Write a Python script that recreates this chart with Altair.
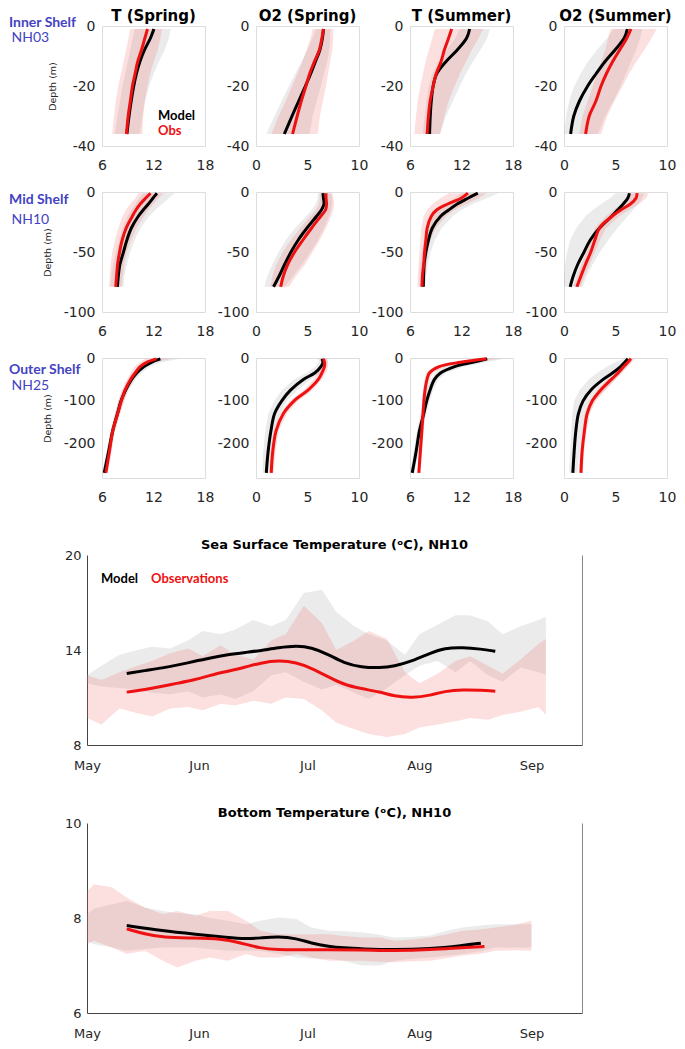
import altair as alt
import pandas as pd

# ---------------- text content ----------------
col_titles = ["T (Spring)", "O2 (Spring)", "T (Summer)", "O2 (Summer)"]
row_names = ["Inner Shelf", "Mid Shelf", "Outer Shelf"]
row_stations = ["NH03", "NH10", "NH25"]
legend_profile = ["Model", "Obs"]
legend_series = ["Model", "Observations"]
sst_title = "Sea Surface Temperature (ᵒC), NH10"
bt_title = "Bottom Temperature (ᵒC), NH10"
depth_title = "Depth (m)"

# ---------------- axis ticks ----------------
t_domain = [6, 18]
t_ticks = [6, 12, 18]
o2_domain = [0, 10]
o2_ticks = [0, 5, 10]
inner_domain = [-40, 0]
inner_ticks = [-40, -20, 0]
mid_domain = [-100, 0]
mid_ticks = [-100, -50, 0]
outer_domain = [-280, 0]
outer_ticks = [-200, -100, 0]
month_days = [0, 31, 61, 92, 123]
month_names = ["May", "Jun", "Jul", "Aug", "Sep"]
day_domain = [0, 137]
sst_domain = [8, 20]
sst_ticks = [8, 14, 20]
bt_domain = [6, 10]
bt_ticks = [6, 8, 10]

# ---------------- profiles: Inner shelf (NH03) ----------------
inner_depth = [-1, -4, -8, -12, -16, -20, -25, -30, -36]

in_tsp_model = [12.05, 11.65, 10.95, 10.4, 10.0, 9.7, 9.4, 9.15, 8.9]
in_tsp_obs = [11.3, 11.0, 10.6, 10.15, 9.85, 9.55, 9.3, 9.05, 8.85]
in_tsp_mlo = [9.8, 9.6, 9.3, 9.0, 8.7, 8.4, 8.1, 7.8, 7.5]
in_tsp_mhi = [14.0, 13.8, 13.3, 12.6, 12.0, 11.5, 11.0, 10.7, 10.4]
in_tsp_olo = [9.3, 9.1, 8.8, 8.5, 8.2, 7.9, 7.6, 7.4, 7.2]
in_tsp_ohi = [13.0, 12.8, 12.5, 12.0, 11.6, 11.3, 11.0, 10.8, 10.7]

in_osp_model = [6.55, 6.45, 6.2, 5.75, 5.3, 4.8, 4.15, 3.5, 2.75]
in_osp_obs = [6.55, 6.4, 6.15, 5.65, 5.2, 4.85, 4.4, 4.0, 3.55]
in_osp_mlo = [5.8, 5.5, 5.0, 4.4, 3.8, 3.2, 2.5, 1.8, 1.0]
in_osp_mhi = [7.2, 7.2, 7.1, 6.9, 6.6, 6.3, 5.9, 5.5, 5.2]
in_osp_olo = [5.5, 5.3, 4.9, 4.5, 4.0, 3.5, 2.9, 2.2, 1.5]
in_osp_ohi = [7.5, 7.5, 7.4, 7.2, 7.0, 6.8, 6.5, 6.2, 6.0]

in_tsu_model = [12.95, 12.6, 11.5, 10.15, 9.1, 8.7, 8.48, 8.36, 8.28]
in_tsu_obs = [10.85, 10.5, 10.0, 9.6, 9.05, 8.7, 8.35, 8.15, 8.0]
in_tsu_mlo = [11.8, 11.3, 10.3, 9.3, 8.6, 8.2, 7.9, 7.7, 7.5]
in_tsu_mhi = [15.3, 15.0, 14.2, 13.3, 12.5, 11.8, 11.0, 10.2, 9.5]
in_tsu_olo = [8.9, 8.6, 8.2, 7.8, 7.5, 7.2, 6.9, 6.7, 6.5]
in_tsu_ohi = [14.5, 14.0, 13.2, 12.5, 11.8, 11.2, 10.5, 10.0, 9.5]

in_osu_model = [6.15, 5.85, 4.95, 3.95, 3.1, 2.3, 1.5, 0.95, 0.64]
in_osu_obs = [6.5, 6.1, 5.4, 4.7, 4.1, 3.6, 3.1, 2.45, 2.1]
in_osu_mlo = [4.8, 4.2, 3.2, 2.3, 1.6, 1.0, 0.5, 0.2, 0.0]
in_osu_mhi = [7.6, 7.4, 7.0, 6.5, 6.0, 5.5, 4.8, 4.0, 3.3]
in_osu_olo = [4.5, 4.3, 4.0, 3.6, 3.2, 2.8, 2.3, 1.8, 1.5]
in_osu_ohi = [9.0, 8.5, 7.8, 7.0, 6.3, 5.7, 4.9, 4.2, 3.6]

# ---------------- profiles: Mid shelf (NH10) ----------------
mid_depth = [-1, -5, -10, -15, -20, -30, -40, -50, -60, -70, -79]

mid_tsp_model = [12.4, 11.95, 11.4, 10.8, 10.25, 9.42, 8.9, 8.5, 8.1, 7.9, 7.8]
mid_tsp_obs = [11.65, 11.1, 10.45, 9.95, 9.55, 8.82, 8.35, 8.05, 7.82, 7.7, 7.6]
mid_tsp_mlo = [10.8, 10.4, 9.9, 9.4, 9.0, 8.4, 8.0, 7.6, 7.3, 7.1, 7.0]
mid_tsp_mhi = [14.5, 13.8, 13.0, 12.2, 11.5, 10.5, 9.8, 9.3, 8.9, 8.6, 8.5]
mid_tsp_olo = [10.3, 9.9, 9.3, 8.8, 8.4, 7.9, 7.5, 7.2, 7.0, 6.9, 6.8]
mid_tsp_ohi = [13.2, 12.6, 12.0, 11.4, 10.9, 10.0, 9.4, 8.9, 8.6, 8.4, 8.3]

mid_osp_model = [6.5, 6.55, 6.6, 6.35, 5.9, 4.95, 4.1, 3.4, 2.8, 2.25, 1.7]
mid_osp_obs = [6.8, 6.8, 6.85, 6.75, 6.3, 5.4, 4.55, 3.75, 3.1, 2.65, 2.4]
mid_osp_mlo = [6.0, 6.0, 5.8, 5.4, 4.9, 3.8, 2.9, 2.2, 1.6, 1.1, 0.8]
mid_osp_mhi = [7.3, 7.4, 7.4, 7.3, 7.1, 6.6, 6.0, 5.3, 4.5, 3.6, 2.8]
mid_osp_olo = [6.2, 6.2, 6.1, 5.8, 5.3, 4.3, 3.4, 2.6, 2.0, 1.6, 1.4]
mid_osp_ohi = [7.4, 7.5, 7.6, 7.5, 7.3, 6.8, 6.2, 5.5, 4.8, 3.9, 3.2]

mid_tsu_model = [13.9, 12.8, 11.5, 10.5, 9.6, 8.6, 8.15, 7.85, 7.65, 7.58, 7.55]
mid_tsu_obs = [12.75, 12.0, 10.4, 9.1, 8.5, 8.0, 7.85, 7.7, 7.6, 7.45, 7.4]
mid_tsu_mlo = [12.0, 11.2, 10.2, 9.3, 8.7, 8.0, 7.6, 7.4, 7.2, 7.15, 7.1]
mid_tsu_mhi = [16.3, 15.0, 13.3, 12.0, 11.0, 9.7, 8.9, 8.4, 8.1, 7.9, 7.8]
mid_tsu_olo = [10.5, 9.6, 8.6, 8.0, 7.6, 7.3, 7.2, 7.1, 7.0, 6.9, 6.9]
mid_tsu_ohi = [15.0, 14.0, 12.6, 11.2, 10.2, 9.0, 8.4, 8.1, 7.9, 7.8, 7.7]

mid_osu_model = [6.35, 6.2, 5.75, 5.2, 4.65, 3.45, 2.55, 1.95, 1.35, 0.9, 0.6]
mid_osu_obs = [7.1, 7.0, 6.45, 5.5, 4.7, 3.45, 3.0, 2.6, 2.1, 1.65, 1.25]
mid_osu_mlo = [5.0, 4.5, 3.6, 2.8, 2.1, 1.2, 0.6, 0.3, 0.1, 0.0, 0.0]
mid_osu_mhi = [7.8, 7.6, 7.2, 6.7, 6.2, 5.2, 4.3, 3.5, 2.8, 2.2, 1.8]
mid_osu_olo = [6.3, 6.1, 5.6, 4.8, 4.1, 3.0, 2.6, 2.2, 1.7, 1.3, 0.9]
mid_osu_ohi = [8.2, 8.0, 7.3, 6.3, 5.4, 4.1, 3.5, 3.0, 2.5, 2.0, 1.6]

# ---------------- profiles: Outer shelf (NH25) ----------------
outer_depth = [-2, -10, -20, -35, -50, -75, -100, -130, -170, -220, -268]

out_tsp_model = [12.8, 11.75, 10.9, 10.05, 9.45, 8.75, 8.22, 7.8, 7.25, 6.75, 6.26]
out_tsp_obs = [12.35, 11.2, 10.45, 9.85, 9.33, 8.68, 8.25, 7.82, 7.25, 6.85, 6.45]
out_tsp_mlo = [11.8, 11.0, 10.3, 9.6, 9.0, 8.4, 7.9, 7.5, 7.0, 6.5, 6.0]
out_tsp_mhi = [15.0, 13.0, 11.6, 10.6, 9.9, 9.1, 8.6, 8.1, 7.5, 7.0, 6.5]
out_tsp_olo = [11.0, 10.4, 9.8, 9.3, 8.9, 8.3, 7.9, 7.5, 7.0, 6.6, 6.2]
out_tsp_ohi = [14.0, 12.2, 11.1, 10.3, 9.7, 9.0, 8.6, 8.1, 7.5, 7.1, 6.7]

out_osp_model = [6.4, 6.5, 6.3, 5.7, 4.6, 3.35, 2.5, 1.8, 1.45, 1.17, 1.0]
out_osp_obs = [6.55, 6.65, 6.65, 6.4, 6.05, 5.05, 3.7, 2.65, 1.95, 1.62, 1.48]
out_osp_mlo = [6.0, 6.1, 5.8, 4.9, 3.7, 2.5, 1.8, 1.2, 0.9, 0.7, 0.6]
out_osp_mhi = [6.9, 7.0, 6.8, 6.3, 5.3, 4.0, 3.0, 2.3, 1.9, 1.6, 1.4]
out_osp_olo = [6.2, 6.3, 6.3, 6.0, 5.6, 4.6, 3.3, 2.3, 1.7, 1.4, 1.3]
out_osp_ohi = [6.9, 7.0, 7.0, 6.8, 6.4, 5.5, 4.1, 3.0, 2.2, 1.9, 1.7]

out_tsu_model = [15.0, 13.3, 11.2, 9.55, 8.85, 8.33, 7.95, 7.6, 7.1, 6.7, 6.26]
out_tsu_obs = [14.9, 11.9, 9.4, 8.25, 7.98, 7.75, 7.62, 7.52, 7.38, 7.2, 7.03]
out_tsu_mlo = [13.5, 11.5, 10.0, 8.9, 8.4, 7.9, 7.6, 7.2, 6.8, 6.4, 6.0]
out_tsu_mhi = [17.0, 14.8, 12.3, 10.2, 9.3, 8.7, 8.3, 7.9, 7.4, 7.0, 6.5]
out_tsu_olo = [13.5, 10.8, 8.8, 7.9, 7.7, 7.5, 7.4, 7.3, 7.2, 7.0, 6.9]
out_tsu_ohi = [16.5, 13.2, 10.2, 8.7, 8.3, 8.0, 7.9, 7.8, 7.6, 7.4, 7.2]

out_osu_model = [6.2, 5.9, 5.5, 4.7, 3.8, 2.6, 1.85, 1.4, 1.15, 0.98, 0.86]
out_osu_obs = [6.5, 6.2, 5.8, 5.25, 4.6, 3.55, 2.75, 2.25, 1.98, 1.75, 1.65]
out_osu_mlo = [5.8, 5.0, 4.2, 3.2, 2.4, 1.5, 1.0, 0.8, 0.7, 0.6, 0.5]
out_osu_mhi = [6.6, 6.5, 6.2, 5.6, 5.0, 4.0, 3.0, 2.3, 1.8, 1.5, 1.3]
out_osu_olo = [6.2, 5.9, 5.5, 4.9, 4.2, 3.2, 2.5, 2.0, 1.8, 1.55, 1.45]
out_osu_ohi = [6.9, 6.6, 6.2, 5.6, 5.0, 4.0, 3.1, 2.5, 2.2, 1.95, 1.85]

# ---------------- Sea surface temperature, NH10 ----------------
sst_line_day = [11, 16, 21, 25, 30, 34, 39, 44, 48, 53, 58, 62, 67, 71, 76, 81, 85, 90, 95, 99, 104, 109, 113]
sst_model = [12.51, 12.7, 12.87, 13.05, 13.29, 13.5, 13.71, 13.85, 13.96, 14.15, 14.27, 14.17, 13.71, 13.18,
             12.91, 12.87, 12.97, 13.29, 13.81, 14.13, 14.17, 14.06, 13.92]
sst_obs = [11.34, 11.5, 11.71, 11.9, 12.13, 12.4, 12.66, 12.93, 13.18, 13.35, 13.22, 12.87, 12.28, 11.82,
           11.55, 11.36, 11.08, 10.98, 11.13, 11.4, 11.5, 11.46, 11.4]
sst_band_day = [0, 4, 9, 14, 18, 23, 28, 32, 37, 41, 46, 51, 55, 60, 65, 69, 74, 78, 83, 88, 92, 97,
                102, 106, 111, 115, 120, 125, 127]
sst_model_hi = [12.4, 13.0, 13.7, 14.0, 14.2, 14.1, 14.6, 15.2, 15.0, 15.3, 15.9, 15.5, 15.9, 17.6, 17.8,
                16.4, 15.5, 15.0, 14.6, 13.7, 15.0, 15.6, 16.2, 16.2, 15.8, 15.0, 15.5, 15.9, 16.1]
sst_model_lo = [11.9, 11.7, 11.6, 11.5, 11.3, 11.2, 11.4, 11.0, 11.2, 10.9, 11.4, 12.4, 12.6, 12.0, 11.5,
                11.8, 11.3, 10.9, 11.6, 12.4, 13.0, 13.3, 12.6, 13.3, 12.4, 12.0, 12.9, 12.6, 12.45]
sst_obs_hi = [12.4, 12.1, 12.6, 13.0, 13.3, 13.8, 14.1, 13.6, 14.3, 13.7, 13.4, 14.6, 15.0, 16.8, 15.7,
              14.0, 14.6, 15.2, 14.7, 12.6, 11.9, 12.5, 13.3, 13.6, 13.0, 12.5, 13.4, 14.4, 14.7]
sst_obs_lo = [9.7, 9.3, 10.3, 10.0, 9.8, 10.3, 10.4, 10.2, 10.6, 10.5, 10.8, 10.6, 11.0, 10.9, 10.2,
              9.4, 9.0, 8.7, 8.5, 8.7, 9.1, 9.3, 9.5, 9.7, 9.6, 9.9, 10.1, 10.4, 9.9]

# ---------------- Bottom temperature, NH10 ----------------
bt_model_day = [11, 21, 30, 39, 44, 48, 53, 58, 62, 67, 71, 76, 85, 95, 104, 109]
bt_model = [7.84, 7.73, 7.66, 7.59, 7.56, 7.58, 7.61, 7.57, 7.47, 7.40, 7.37, 7.35, 7.33, 7.35, 7.42, 7.47]
bt_obs_day = [11, 16, 21, 30, 37, 42, 48, 53, 58, 67, 76, 85, 95, 104, 110]
bt_obs = [7.77, 7.66, 7.59, 7.58, 7.56, 7.49, 7.36, 7.33, 7.33, 7.33, 7.33, 7.31, 7.33, 7.38, 7.40]
bt_band_day = [0, 2, 7, 11, 16, 21, 25, 30, 34, 39, 44, 48, 53, 58, 62, 67, 71, 76, 81, 85, 90, 95,
               99, 104, 109, 113, 118, 123]
bt_obs_hi = [8.57, 8.71, 8.64, 8.43, 8.22, 8.08, 8.15, 8.05, 8.15, 8.15, 7.94, 7.73, 7.66, 7.66, 7.66,
             7.66, 7.62, 7.59, 7.59, 7.52, 7.55, 7.59, 7.65, 7.73, 7.76, 7.80, 7.85, 7.94]
bt_obs_lo = [7.45, 7.52, 7.38, 7.24, 7.31, 7.10, 6.96, 7.10, 7.17, 7.10, 7.24, 7.17, 7.17, 7.24, 7.17,
             7.10, 7.10, 7.10, 7.08, 7.07, 7.09, 7.10, 7.15, 7.21, 7.25, 7.31, 7.32, 7.31]
bt_model_hi = [8.08, 8.2, 8.29, 8.36, 8.22, 8.15, 8.1, 8.08, 8.0, 7.94, 7.87, 7.94, 8.01, 7.98, 7.80,
               7.73, 7.72, 7.70, 7.65, 7.59, 7.60, 7.63, 7.72, 7.80, 7.84, 7.87, 7.87, 7.87]
bt_model_lo = [7.52, 7.45, 7.38, 7.31, 7.35, 7.38, 7.38, 7.38, 7.35, 7.31, 7.31, 7.31, 7.25, 7.17, 7.15,
               7.14, 7.10, 7.00, 7.00, 7.10, 7.14, 7.17, 7.20, 7.24, 7.30, 7.38, 7.38, 7.38]

# ---------------- styling ----------------
FONT = "DejaVu Sans"
LFONT = "Lato"
LABEL_COLOR = "#262626"
BLUE = "#4343c4"
GRAY_BAND = "#9a9a9a"
PINK_BAND = "#f06060"
RED = "#ee1111"
PW, PH = 103, 120
HSP = 51
SW, SH = 495, 190
ROW_GAP = 46          # gap between profile rows
TOP_TO_SST = 77       # gap between last profile row and SST panel
SST_TO_BT = 78

neg_label = "datum.value < 0 ? '-' + abs(datum.value) : '' + datum.value"


def profile(depth, model, obs, mlo, mhi, olo, ohi, xdom, xticks, ydom, yticks, title=None,
            first=False, tpad=12, legend=False):
    df = pd.DataFrame({"depth": depth, "model": model, "obs": obs,
                       "mlo": mlo, "mhi": mhi, "olo": olo, "ohi": ohi})
    xs = alt.Scale(domain=xdom, nice=False, zero=False)
    ys = alt.Scale(domain=ydom, nice=False, zero=False)
    xax = alt.Axis(values=xticks, title=None, grid=False, ticks=False, tickSize=0, domain=False,
                   labelFont=FONT, labelFontSize=14, labelColor=LABEL_COLOR, labelPadding=12,
                   labelFlush=False, labelOverlap=False)
    yax_kw = dict(values=yticks, grid=False, ticks=False, tickSize=0, domain=False,
                  labelFont=FONT, labelFontSize=14, labelColor=LABEL_COLOR, labelPadding=7,
                  labelFlush=False, labelOverlap=False, labelExpr=neg_label)
    if first:
        yax = alt.Axis(title=depth_title, titleFont=FONT, titleFontSize=9.5, titleFontWeight="normal",
                       titleColor=LABEL_COLOR, titlePadding=tpad, **yax_kw)
    else:
        yax = alt.Axis(title=None, **yax_kw)
    y = alt.Y("depth:Q", scale=ys, axis=yax)
    base = alt.Chart(df)
    gray = base.mark_area(orient="horizontal", color=GRAY_BAND, opacity=0.2).encode(
        y=y, x=alt.X("mlo:Q", scale=xs, axis=xax), x2="mhi:Q")
    pink = base.mark_area(orient="horizontal", color=PINK_BAND, opacity=0.2).encode(
        y=y, x=alt.X("olo:Q", scale=xs, axis=xax), x2="ohi:Q")
    ml = base.mark_line(color="black", strokeWidth=3, interpolate="catmull-rom").encode(
        y=y, x=alt.X("model:Q", scale=xs, axis=xax), order=alt.Order("depth:Q", sort="descending"))
    ol = base.mark_line(color=RED, strokeWidth=3, interpolate="catmull-rom").encode(
        y=y, x=alt.X("obs:Q", scale=xs, axis=xax), order=alt.Order("depth:Q", sort="descending"))
    layers = [gray, pink, ml, ol]
    if legend:
        ldf = pd.DataFrame({"lab": legend_profile})
        t1 = alt.Chart(ldf).transform_filter(alt.datum.lab == legend_profile[0]).mark_text(
            align="left", baseline="alphabetic", font=LFONT, fontWeight="bold", fontSize=13,
            color="black").encode(x=alt.value(56), y=alt.value(94), text="lab:N")
        t2 = alt.Chart(ldf).transform_filter(alt.datum.lab == legend_profile[1]).mark_text(
            align="left", baseline="alphabetic", font=LFONT, fontWeight="bold", fontSize=13,
            color=RED).encode(x=alt.value(56), y=alt.value(109), text="lab:N")
        layers += [t1, t2]
    props = dict(width=PW, height=PH)
    if title is not None:
        props["title"] = alt.TitleParams(title, font=FONT, fontSize=15, fontWeight="bold",
                                         color="black", anchor="middle", offset=-5, frame="group")
    return alt.layer(*layers).properties(**props)


def row_label(i, y1, y2):
    d = pd.DataFrame({"name": [row_names[i]], "st": [row_stations[i]]})
    a = alt.Chart(d).mark_text(align="left", baseline="alphabetic", font=LFONT, fontWeight="bold",
                               fontSize=14, color=BLUE).encode(
        x=alt.value(-78), y=alt.value(y1), text="name:N")
    b = alt.Chart(d).mark_text(align="left", baseline="alphabetic", font=LFONT, fontSize=14,
                               color=BLUE).encode(
        x=alt.value(-75.5), y=alt.value(y2), text="st:N")
    return alt.layer(a, b).properties(width=1, height=PH,
                                      view=alt.ViewBackground(stroke="transparent"))


def make_row(i, depth, ydom, yticks, tpad, panels, y1, y2, legend=False, titles=False):
    charts = []
    for j, (vals, xdom, xticks) in enumerate(panels):
        kw = dict(first=(j == 0), tpad=tpad, legend=(legend and j == 0))
        if titles:
            kw["title"] = col_titles[j]
        charts.append(profile(depth, *vals, xdom, xticks, ydom, yticks, **kw))
    inner = alt.hconcat(*charts, spacing=HSP, bounds="flush")
    return alt.hconcat(row_label(i, y1, y2), inner, spacing=14, bounds="flush")


row1 = make_row(0, inner_depth, inner_domain, inner_ticks, 15, [
    ((in_tsp_model, in_tsp_obs, in_tsp_mlo, in_tsp_mhi, in_tsp_olo, in_tsp_ohi), t_domain, t_ticks),
    ((in_osp_model, in_osp_obs, in_osp_mlo, in_osp_mhi, in_osp_olo, in_osp_ohi), o2_domain, o2_ticks),
    ((in_tsu_model, in_tsu_obs, in_tsu_mlo, in_tsu_mhi, in_tsu_olo, in_tsu_ohi), t_domain, t_ticks),
    ((in_osu_model, in_osu_obs, in_osu_mlo, in_osu_mhi, in_osu_olo, in_osu_ohi), o2_domain, o2_ticks),
], 1, 16, legend=True, titles=True)

row2 = make_row(1, mid_depth, mid_domain, mid_ticks, 11, [
    ((mid_tsp_model, mid_tsp_obs, mid_tsp_mlo, mid_tsp_mhi, mid_tsp_olo, mid_tsp_ohi), t_domain, t_ticks),
    ((mid_osp_model, mid_osp_obs, mid_osp_mlo, mid_osp_mhi, mid_osp_olo, mid_osp_ohi), o2_domain, o2_ticks),
    ((mid_tsu_model, mid_tsu_obs, mid_tsu_mlo, mid_tsu_mhi, mid_tsu_olo, mid_tsu_ohi), t_domain, t_ticks),
    ((mid_osu_model, mid_osu_obs, mid_osu_mlo, mid_osu_mhi, mid_osu_olo, mid_osu_ohi), o2_domain, o2_ticks),
], 12, 32)

row3 = make_row(2, outer_depth, outer_domain, outer_ticks, 11, [
    ((out_tsp_model, out_tsp_obs, out_tsp_mlo, out_tsp_mhi, out_tsp_olo, out_tsp_ohi), t_domain, t_ticks),
    ((out_osp_model, out_osp_obs, out_osp_mlo, out_osp_mhi, out_osp_olo, out_osp_ohi), o2_domain, o2_ticks),
    ((out_tsu_model, out_tsu_obs, out_tsu_mlo, out_tsu_mhi, out_tsu_olo, out_tsu_ohi), t_domain, t_ticks),
    ((out_osu_model, out_osu_obs, out_osu_mlo, out_osu_mhi, out_osu_olo, out_osu_ohi), o2_domain, o2_ticks),
], 16, 32)

month_expr = "{}[indexof({}, datum.value)]".format(
    "[" + ",".join("'" + m + "'" for m in month_names) + "]",
    "[" + ",".join(str(d) for d in month_days) + "]")


def series(mday, mval, oday, oval, bday, mlo, mhi, olo, ohi, ydom, yticks, title, legend=False):
    band = pd.DataFrame({"day": bday, "mlo": mlo, "mhi": mhi, "olo": olo, "ohi": ohi})
    mdf = pd.DataFrame({"day": mday, "v": mval})
    odf = pd.DataFrame({"day": oday, "v": oval})
    xs = alt.Scale(domain=day_domain, nice=False, zero=False)
    ys = alt.Scale(domain=ydom, nice=False, zero=False)
    xax = alt.Axis(values=month_days, labelExpr=month_expr, title=None, grid=False, ticks=False,
                   tickSize=0, domainColor="#444444", labelFont=FONT, labelFontSize=13,
                   labelColor=LABEL_COLOR, labelPadding=14, labelFlush=False, labelOverlap=False)
    yax = alt.Axis(values=yticks, title=None, grid=False, ticks=False, tickSize=0,
                   domainColor="#444444", labelFont=FONT, labelFontSize=13, labelColor=LABEL_COLOR,
                   labelPadding=6, labelFlush=False, labelOverlap=False)
    rax = alt.Axis(orient="right", values=yticks, title=None, grid=False, labels=False, ticks=False,
                   tickSize=0, domainColor="#888888")
    x = alt.X("day:Q", scale=xs, axis=xax)
    gray = alt.Chart(band).mark_area(color=GRAY_BAND, opacity=0.2).encode(
        x=x, y=alt.Y("mlo:Q", scale=ys, axis=yax), y2="mhi:Q")
    pink = alt.Chart(band).mark_area(color=PINK_BAND, opacity=0.2).encode(
        x=x, y=alt.Y("olo:Q", scale=ys, axis=None), y2="ohi:Q")
    ml = alt.Chart(mdf).mark_line(color="black", strokeWidth=3, interpolate="basis").encode(
        x=x, y=alt.Y("v:Q", scale=ys, axis=None))
    ol = alt.Chart(odf).mark_line(color=RED, strokeWidth=3, interpolate="basis").encode(
        x=x, y=alt.Y("v:Q", scale=ys, axis=None))
    right = alt.Chart(mdf).mark_line(opacity=0).encode(
        x=x, y=alt.Y("v:Q", scale=ys, axis=rax))
    layers = [gray, pink, ml, ol, right]
    if legend:
        ldf = pd.DataFrame({"lab": legend_series})
        t1 = alt.Chart(ldf).transform_filter(alt.datum.lab == legend_series[0]).mark_text(
            align="left", baseline="alphabetic", font=LFONT, fontWeight="bold", fontSize=13,
            color="black").encode(x=alt.value(14), y=alt.value(28), text="lab:N")
        t2 = alt.Chart(ldf).transform_filter(alt.datum.lab == legend_series[1]).mark_text(
            align="left", baseline="alphabetic", font=LFONT, fontWeight="bold", fontSize=13,
            color=RED).encode(x=alt.value(64), y=alt.value(28), text="lab:N")
        layers += [t1, t2]
    return alt.layer(*layers).resolve_scale(y="independent").properties(
        width=SW, height=SH, view=alt.ViewBackground(stroke="transparent"),
        title=alt.TitleParams(title, font=FONT, fontSize=13, fontWeight="bold", color="black",
                              anchor="middle", offset=-3, frame="group"))


sst = series(sst_line_day, sst_model, sst_line_day, sst_obs, sst_band_day, sst_model_lo, sst_model_hi,
             sst_obs_lo, sst_obs_hi, sst_domain, sst_ticks, sst_title, legend=True)
bt = series(bt_model_day, bt_model, bt_obs_day, bt_obs, bt_band_day, bt_model_lo, bt_model_hi,
            bt_obs_lo, bt_obs_hi, bt_domain, bt_ticks, bt_title)

# With flush bounds a nested concat counts as zero-size, so spacing carries the full pitch.
top = alt.vconcat(row1, row2, row3, spacing=PH + ROW_GAP, bounds="flush")
bottom = alt.vconcat(sst, bt, spacing=SST_TO_BT, bounds="flush")

chart = alt.vconcat(top, bottom, spacing=3 * PH + 2 * ROW_GAP + TOP_TO_SST, bounds="flush").properties(
    padding={"left": 0, "top": 0, "right": 0, "bottom": 0}
).configure_view(stroke="#666666", strokeWidth=1).configure(background="white")

chart.save("out.html", embed_options={"renderer": "svg", "actions": False})
